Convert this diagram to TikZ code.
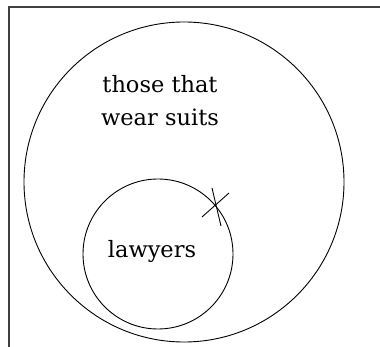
\documentclass[tikz,border=0pt]{standalone}
\usepackage{fontspec}
\setmainfont{DejaVu Serif}
\begin{document}
\begin{tikzpicture}[x=1pt,y=-1pt,
  frame/.style={draw=black!75,line width=2pt},
  setline/.style={draw=black,line width=0.9pt},
  lbl/.style={font=\fontsize{22.5}{33}\selectfont,align=center,inner sep=0pt}]
\useasboundingbox (0,0) rectangle (380,347);
\fill[white] (0,0) rectangle (380,347);
\draw[frame] (380,7) -- (8.5,7) -- (8.5,347);
\draw[setline] (184,182) circle[radius=160];
\draw[setline] (158,254) circle[radius=75];
\draw[setline] (202,217) -- (229,193);
\draw[setline] (212,188) -- (221,226);
\node[lbl] (suits) at (160,101) {those that\\wear suits};
\node[lbl] (law) at (152,251) {lawyers};
\end{tikzpicture}
\end{document}
